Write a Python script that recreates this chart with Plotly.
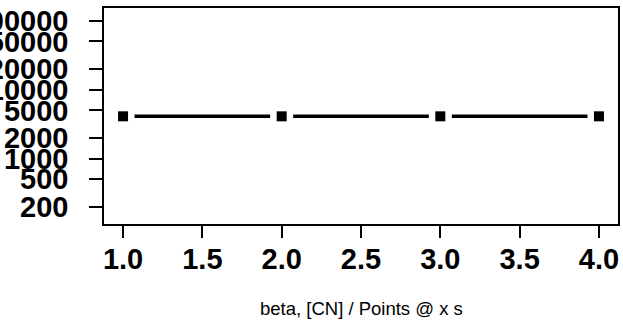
import plotly.graph_objects as go

x_vals = [1, 2, 3, 4]
y_vals = [4100, 4100, 4100, 4100]
x_ticks = [1.0, 1.5, 2.0, 2.5, 3.0, 3.5, 4.0]
y_ticks = [200, 500, 1000, 2000, 5000, 10000, 20000, 50000, 100000]
x_title = "beta, [CN] / Points @ x s"

fig = go.Figure()
fig.add_trace(go.Scatter(x=x_vals, y=y_vals, mode="lines",
                         line=dict(color="black", width=3.5), hoverinfo="skip"))
fig.add_trace(go.Scatter(x=x_vals, y=y_vals, mode="markers",
                         marker=dict(symbol="square", size=23, color="white", line=dict(width=0)),
                         hoverinfo="skip"))
fig.add_trace(go.Scatter(x=x_vals, y=y_vals, mode="markers",
                         marker=dict(symbol="square", size=10, color="black", line=dict(width=0))))

tickfont = dict(family="Liberation Sans, Arial, sans-serif", size=29, color="black", weight="bold")

fig.update_layout(
    width=623, height=324,
    margin=dict(l=104, r=5, t=8, b=100, pad=0),
    paper_bgcolor="white", plot_bgcolor="white",
    showlegend=False,
    xaxis=dict(range=[0.88, 4.12], tickvals=x_ticks, ticktext=[f"{v:.1f}" for v in x_ticks],
               showgrid=False, zeroline=False, showline=True, mirror=True,
               linecolor="black", linewidth=1.5, ticks="outside", ticklen=12, tickwidth=1.5,
               tickcolor="black", tickfont=tickfont, automargin=False, ticklabelstandoff=-4),
    yaxis=dict(type="log", range=[2.05, 5.185], tickvals=y_ticks, ticktext=[str(v) for v in y_ticks],
               showgrid=False, zeroline=False, showline=True, mirror=True,
               linecolor="black", linewidth=1.5, ticks="outside", ticklen=13, tickwidth=1.5,
               tickcolor="black", tickfont=tickfont, automargin=False, ticklabelstandoff=15),
    annotations=[dict(text=x_title, xref="paper", yref="paper", x=0.5, y=-0.389,
                      xanchor="center", yanchor="middle", showarrow=False,
                      font=dict(family="Liberation Sans, Arial, sans-serif", size=18.5, color="black"))],
)

fig.write_html("out.html", config={"displayModeBar": False},
               post_script="document.body.style.margin='0';document.body.style.padding='0';")
